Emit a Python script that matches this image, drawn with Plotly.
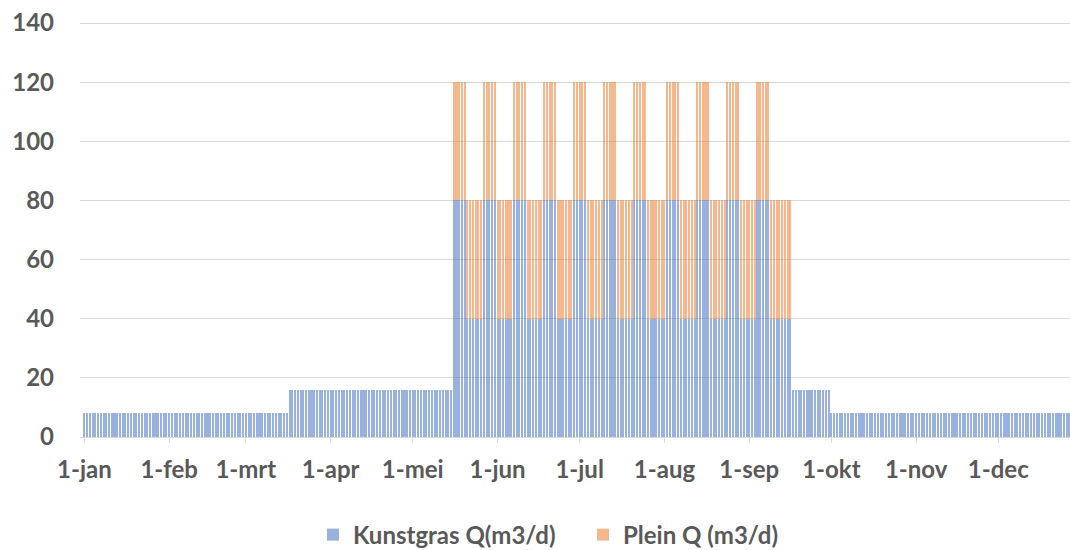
import pandas as pd
import plotly.graph_objects as go

# Periods: each period starts on the given date and runs until the next one
segment_starts = [
    "2023-01-01", "2023-03-17",
    "2023-05-16", "2023-05-21", "2023-05-27", "2023-06-01", "2023-06-07", "2023-06-12",
    "2023-06-18", "2023-06-23", "2023-06-29", "2023-07-04", "2023-07-10", "2023-07-15",
    "2023-07-21", "2023-07-26", "2023-08-02", "2023-08-07", "2023-08-13", "2023-08-18",
    "2023-08-24", "2023-08-29", "2023-09-04", "2023-09-09",
    "2023-09-17", "2023-10-01",
]
kunstgras_q = [
    8, 16,
    80, 40, 80, 40, 80, 40,
    80, 40, 80, 40, 80, 40,
    80, 40, 80, 40, 80, 40,
    80, 40, 80, 40,
    16, 8,
]
plein_q = [
    0, 0,
    40, 40, 40, 40, 40, 40,
    40, 40, 40, 40, 40, 40,
    40, 40, 40, 40, 40, 40,
    40, 40, 40, 40,
    0, 0,
]
year_start = "2023-01-01"
year_end = "2023-12-31"

month_ticks = ["2023-01-01", "2023-02-01", "2023-03-01", "2023-04-01", "2023-05-01", "2023-06-01",
               "2023-07-01", "2023-08-01", "2023-09-01", "2023-10-01", "2023-11-01", "2023-12-01"]
month_labels = ["1-jan", "1-feb", "1-mrt", "1-apr", "1-mei", "1-jun",
                "1-jul", "1-aug", "1-sep", "1-okt", "1-nov", "1-dec"]
y_ticks = [0, 20, 40, 60, 80, 100, 120, 140]

# expand periods into daily values
days = pd.date_range(year_start, year_end, freq="D")
seg_idx = (pd.Series(range(len(segment_starts)), index=pd.to_datetime(segment_starts))
           .reindex(days, method="ffill").astype(int))
kunst_daily = [kunstgras_q[i] for i in seg_idx]
plein_daily = [plein_q[i] for i in seg_idx]

FONT = "Lato"
GRAY = "#595959"
FS = 24

fig = go.Figure()
fig.add_trace(go.Bar(x=days, y=kunst_daily, name="Kunstgras Q(m3/d)",
                     marker=dict(color="#4472C4", line=dict(width=0)), opacity=0.55))
fig.add_trace(go.Bar(x=days, y=plein_daily, name="Plein Q (m3/d)",
                     marker=dict(color="#ED7D31", line=dict(width=0)), opacity=0.55))

fig.update_layout(
    barmode="stack",
    bargap=0.25,
    width=1070, height=550,
    margin=dict(l=80, r=0, t=21, b=113, autoexpand=False),
    plot_bgcolor="white", paper_bgcolor="white",
    font=dict(family=FONT, size=FS, color=GRAY),
    showlegend=True,
    legend=dict(orientation="h", xref="container", yref="container",
                x=313 / 1070, xanchor="left", y=15 / 550, yanchor="middle",
                font=dict(family=FONT, size=FS, color=GRAY, weight="bold"),
                entrywidth=225, entrywidthmode="pixels",
                itemwidth=30, traceorder="normal"),
)
fig.update_xaxes(
    type="date", automargin=False,
    range=["2022-12-30 09:36", "2023-12-27 05:00"],
    tickvals=month_ticks, ticktext=month_labels,
    tickfont=dict(family=FONT, size=FS, color=GRAY, weight="bold"),
    ticks="outside", ticklen=5, tickcolor="#d9d9d9",
    showline=True, linecolor="#d9d9d9", linewidth=1,
    showgrid=False, ticklabelstandoff=6,
)
fig.update_yaxes(
    range=[0, 140.7], tickvals=y_ticks, automargin=False,
    tickfont=dict(family=FONT, size=FS, color=GRAY, weight="bold"),
    showgrid=True, gridcolor="#d9d9d9", gridwidth=1,
    zeroline=False, ticks="", ticklabelstandoff=25,
)

# remove the default 8px page margin so the figure sits at the window's top-left corner
fig.write_html("out.html", config={"displayModeBar": False},
               post_script="document.body.style.margin='0px';")
